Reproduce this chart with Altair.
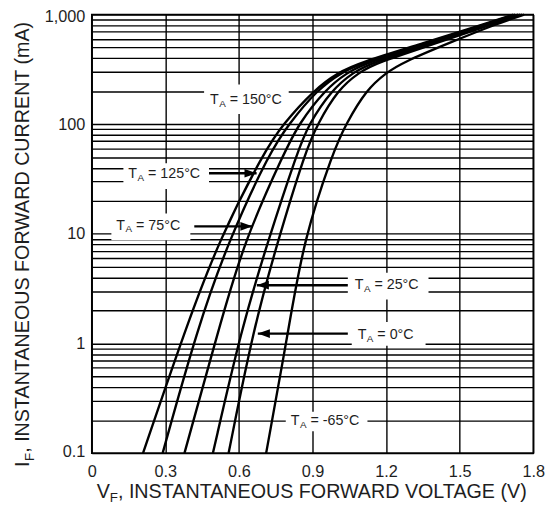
import altair as alt
import pandas as pd

# ---- data (forward current in mA, forward voltage in V) ----
I_MA = [0.1, 1.36, 8.7, 56.3, 100, 207, 295, 363, 548, 830, 1000]
VF_150C = [0.209, 0.382, 0.518, 0.703, 0.779, 0.908, 1.004, 1.092, 1.353, 1.606, 1.719]
VF_125C = [0.289, 0.430, 0.558, 0.727, 0.803, 0.920, 1.016, 1.104, 1.365, 1.614, 1.727]
VF_75C = [0.378, 0.518, 0.622, 0.787, 0.843, 0.952, 1.040, 1.120, 1.378, 1.622, 1.739]
VF_25C = [0.494, 0.610, 0.719, 0.839, 0.884, 0.980, 1.064, 1.141, 1.394, 1.631, 1.747]
VF_0C = [0.558, 0.659, 0.759, 0.871, 0.920, 1.004, 1.088, 1.161, 1.406, 1.639, 1.755]
VF_M65C = [0.711, 0.803, 0.863, 0.984, 1.036, 1.120, 1.201, 1.265, 1.454, 1.655, 1.763]
TEMPS = ["150", "125", "75", "25", "0", "-65"]

X_TICKS = [0, 0.3, 0.6, 0.9, 1.2, 1.5, 1.8]
Y_GRID = [round(m * 10 ** e, 6) for e in range(-1, 3) for m in range(1, 10)] + [1000]

# annotations (data coordinates)
LABEL_REST = ["= 150°C", "= 125°C", "= 75°C", "= 25°C", "= 0°C", "= -65°C"]
LABEL_V = [0.482, 0.149, 0.100, 1.072, 1.084, 0.811]
LABEL_I = [165, 35, 11.9, 3.44, 1.2, 0.194]
BOX_V1 = [0.458, 0.129, 0.080, 1.044, 1.060, 0.791]
BOX_V2 = [0.803, 0.478, 0.402, 1.373, 1.361, 1.124]
BOX_I1 = [230, 44, 15.3, 4.41, 1.57, 0.238]
BOX_I2 = [124, 25.6, 8.74, 2.52, 0.954, 0.158]
ARROW_START = [0.478, 0.418, 1.044, 1.044]
ARROW_TIP = [0.672, 0.655, 0.673, 0.677]
ARROW_I = [35.7, 11.7, 3.4, 1.23]
ARROW_DIR = ["right", "right", "left", "left"]

rows = []
for t, vs in zip(TEMPS, [VF_150C, VF_125C, VF_75C, VF_25C, VF_0C, VF_M65C]):
    for v, i in zip(vs, I_MA):
        rows.append({"T": t, "V": v, "I": i})
curves = pd.DataFrame(rows)

labels = pd.DataFrame({"V": LABEL_V, "I": LABEL_I, "rest": LABEL_REST})
boxes = pd.DataFrame({"V": BOX_V1, "V2": BOX_V2, "I": BOX_I1, "I2": BOX_I2})
arrows = pd.DataFrame({"V": ARROW_START, "V2": ARROW_TIP, "I": ARROW_I, "dir": ARROW_DIR})
heads = pd.DataFrame({"V": ARROW_TIP, "I": ARROW_I, "dir": ARROW_DIR})

FONT = "Liberation Sans"
INK = "#1e1e1e"

x_enc = alt.X(
    "V:Q",
    scale=alt.Scale(domain=[0, 1.8], nice=False, zero=False),
    axis=alt.Axis(values=X_TICKS, title=None, labelFlush=False, labelPadding=11,
                  format="~g", labelOverlap=False),
)
y_enc = alt.Y(
    "I:Q",
    scale=alt.Scale(type="log", domain=[0.1, 1000], nice=False),
    axis=alt.Axis(values=Y_GRID, title=None, labelFlush=True, labelFlushOffset=6,
                  labelPadding=7, labelOverlap=False,
                  labelExpr="abs(log(datum.value)/LN10 - round(log(datum.value)/LN10)) < 1e-6 ? format(datum.value, ',') : ''"),
)

box_layer = alt.Chart(boxes).mark_rect(color="white", stroke=None).encode(
    x=x_enc, x2="V2:Q", y=y_enc, y2="I2:Q")

curve_layer = alt.Chart(curves).mark_line(
    color="black", strokeWidth=2.4, interpolate="basis").encode(
    x=x_enc, y=y_enc, detail="T:N", order="I:Q")

arrow_layer = alt.Chart(arrows).mark_rule(color="black", strokeWidth=2.4).encode(
    x=x_enc, x2="V2:Q", y=y_enc)

head_right = alt.Chart(heads).transform_filter("datum.dir == 'right'").mark_point(
    shape="M0,0L-1,-0.36L-1,0.36Z", size=600, filled=True, color="black", opacity=1).encode(
    x=x_enc, y=y_enc)
head_left = alt.Chart(heads).transform_filter("datum.dir == 'left'").mark_point(
    shape="M0,0L1,-0.36L1,0.36Z", size=600, filled=True, color="black", opacity=1).encode(
    x=x_enc, y=y_enc)

LS = 14.5
SUB = 10
t_layer = alt.Chart(labels).mark_text(
    text="T", align="left", baseline="middle", font=FONT, fontSize=LS, color=INK).encode(
    x=x_enc, y=y_enc)
a_layer = alt.Chart(labels).mark_text(
    text="A", align="left", baseline="middle", font=FONT, fontSize=SUB, color=INK,
    dx=0.611 * LS + 0.5, dy=4).encode(x=x_enc, y=y_enc)
rest_layer = alt.Chart(labels).mark_text(
    align="left", baseline="middle", font=FONT, fontSize=LS, color=INK,
    dx=0.611 * LS + 0.667 * SUB + 4.5).encode(x=x_enc, y=y_enc, text="rest:N")

one = pd.DataFrame({"k": [0]})
TS = 20
TSUB = 13.5
xt1 = alt.Chart(one).mark_text(text="V", align="left", baseline="alphabetic",
                               font=FONT, fontSize=TS, color=INK).encode(
    x=alt.value(5), y=alt.value(491))
xt2 = alt.Chart(one).mark_text(text="F", align="left", baseline="alphabetic",
                               font=FONT, fontSize=TSUB, color=INK,
                               dx=0.667 * TS, dy=4).encode(
    x=alt.value(5), y=alt.value(491))
xt3 = alt.Chart(one).mark_text(text=", INSTANTANEOUS FORWARD VOLTAGE (V)", align="left",
                               baseline="alphabetic", font=FONT, fontSize=TS, color=INK,
                               dx=0.667 * TS + 0.611 * TSUB).encode(
    x=alt.value(5), y=alt.value(491))

yt1 = alt.Chart(one).mark_text(text="I", align="left", baseline="alphabetic", angle=270,
                               font=FONT, fontSize=TS, color=INK).encode(
    x=alt.value(-64), y=alt.value(459))
yt2 = alt.Chart(one).mark_text(text="F", align="left", baseline="alphabetic", angle=270,
                               font=FONT, fontSize=TSUB, color=INK,
                               dx=0.278 * TS + 0.5, dy=5).encode(
    x=alt.value(-64), y=alt.value(459))
yt3 = alt.Chart(one).mark_text(text=", INSTANTANEOUS FORWARD CURRENT (mA)", align="left",
                               baseline="alphabetic", angle=270, font=FONT, fontSize=TS,
                               color=INK, dx=0.278 * TS + 0.611 * TSUB + 0.5).encode(
    x=alt.value(-64), y=alt.value(459))

chart = alt.layer(
    box_layer, curve_layer, arrow_layer, head_right, head_left,
    t_layer, a_layer, rest_layer, xt1, xt2, xt3, yt1, yt2, yt3,
).properties(
    width=448, height=445,
    autosize=alt.AutoSizeParams(type="none"),
    padding={"left": 85, "top": 3, "right": 17, "bottom": 50},
    background="white",
).configure_axis(
    grid=True, gridColor="black", gridWidth=1.4, gridOpacity=1,
    domain=False, ticks=False,
    labelFont=FONT, labelFontSize=16.5, labelColor=INK,
).configure_view(
    stroke="black", strokeWidth=1.6,
)

chart.save("out.html", embed_options={"renderer": "svg", "actions": False})
